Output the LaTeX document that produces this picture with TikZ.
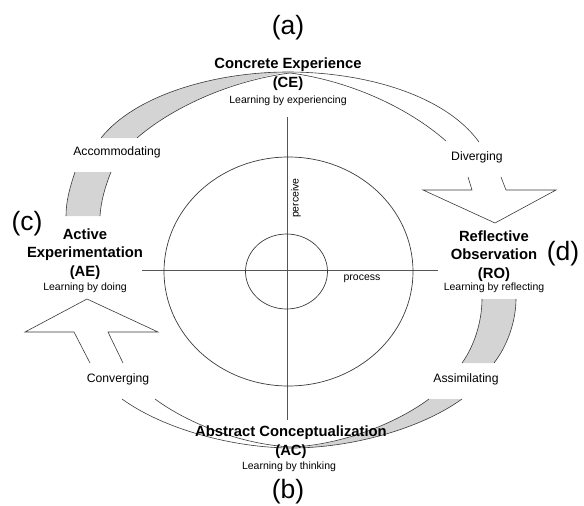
\documentclass[tikz,border=0pt]{standalone}
\usepackage{fontspec}
\setmainfont{Liberation Sans}
\usetikzlibrary{positioning}
\definecolor{linegray}{HTML}{3A3A3A}
\definecolor{bandgray}{HTML}{D4D4D4}
\definecolor{axisgray}{HTML}{555555}
\tikzset{
  mode/.style={font=\fontsize{14.8}{18.5}\selectfont\bfseries, align=center, inner sep=0pt},
  learn/.style={font=\fontsize{10.5}{12}\selectfont, inner sep=0pt},
  stylelbl/.style={font=\fontsize{12.2}{14}\selectfont, inner sep=0pt},
  letter/.style={font=\fontsize{26.5}{30}\selectfont, inner sep=0pt},
  edge/.style={draw=linegray, line width=0.6pt, line join=miter},
  ring/.style={draw=linegray, line width=0.7pt},
  axis/.style={draw=axisgray, line width=0.9pt},
}
\begin{document}
\begin{tikzpicture}[x=1pt,y=-1pt]
        \useasboundingbox (0,0) rectangle (584,506);

        % top arrow: grey on the left, hollow on the right
        \fill[bandgray] (101,138) .. controls (135,95) and (215,72) .. (288,72)
            .. controls (235,80) and (175,105) .. (137,138) -- cycle;
        \fill[bandgray] (75,172) .. controls (70,187) and (66,201) .. (66,216)
            -- (100,216) .. controls (101,201) and (105,187) .. (111,172) -- cycle;
        \draw[edge] (101,138) .. controls (135,95) and (215,72) .. (288,72)
            .. controls (365,72) and (445,95) .. (479,142);
        \draw[edge] (137,138) .. controls (175,105) and (235,80) .. (290,73)
            .. controls (345,80) and (405,105) .. (446,141);
        \draw[edge] (75,172) .. controls (70,187) and (66,201) .. (66,216);
        \draw[edge] (111,172) .. controls (105,187) and (101,201) .. (100,216);
        \draw[edge] (468,177) -- (472,190) -- (423,190) -- (495,223) -- (556,190) -- (506,190) -- (501,177);

        % bottom arrow: grey on the right, hollow on the left
        \fill[bandgray] (462,399) .. controls (419,430) and (349,448) .. (292,448)
            .. controls (339,445) and (394,425) .. (429,399) -- cycle;
        \fill[bandgray] (516,299) .. controls (516,320) and (508,345) .. (494,363)
            -- (462,363) .. controls (475,345) and (482,320) .. (482,299) -- cycle;
        \draw[edge] (122,399) .. controls (165,430) and (235,448) .. (292,448)
            .. controls (349,448) and (419,430) .. (462,399);
        \draw[edge] (155,399) .. controls (190,425) and (245,445) .. (292,447)
            .. controls (339,445) and (394,425) .. (429,399);
        \draw[edge] (516,299) .. controls (516,320) and (508,345) .. (494,363);
        \draw[edge] (482,299) .. controls (482,320) and (475,345) .. (462,363);
        \draw[edge] (90,363) -- (74,332) -- (25,332) -- (87,299) -- (158,332) -- (108,332) -- (123,363);

        % axes and circles
        \coordinate (up) at (287.5,117);
        \coordinate (down) at (287.5,420);
        \coordinate (left) at (142,270.5);
        \coordinate (right) at (438,270.5);
        \draw[axis] (up) -- (down);
        \draw[axis] (left) -- (right);
        \draw[ring] (288.5,271.5) ellipse [x radius=124.5pt, y radius=114.5pt];
        \draw[ring] (286.5,271.5) ellipse [x radius=41pt, y radius=37.5pt];
        \node[learn, rotate=90] (perceive) at (296,198) {perceive};
        \node[learn] (process) at (362,279) {process};

        % the four modes
        \node[letter] (a) at (288,28) {(a)};
        \node[mode] (ce) at (288,74) {Concrete Experience\\(CE)};
        \node[learn] (ce-learn) at (288,101) {Learning by experiencing};

        \node[letter] (c) at (27,224) {(c)};
        \node[mode] (ae) at (85,254) {Active\\Experimentation\\(AE)};
        \node[learn] (ae-learn) at (85,288) {Learning by doing};

        \node[letter] (d) at (563,254) {(d)};
        \node[mode] (ro) at (494,256) {Reflective\\Observation\\(RO)};
        \node[learn] (ro-learn) at (494,288) {Learning by reflecting};

        \node[mode] (ac) at (291,442) {Abstract Conceptualization\\(AC)};
        \node[learn] (ac-learn) at (289,467) {Learning by thinking};
        \node[letter] (b) at (288,492) {(b)};

        % the four styles
        \node[stylelbl] (accom) at (117,152) {Accommodating};
        \node[stylelbl] (diverg) at (477,157) {Diverging};
        \node[stylelbl] (converg) at (118,379) {Converging};
        \node[stylelbl] (assim) at (466,379) {Assimilating};
\end{tikzpicture}
\end{document}
